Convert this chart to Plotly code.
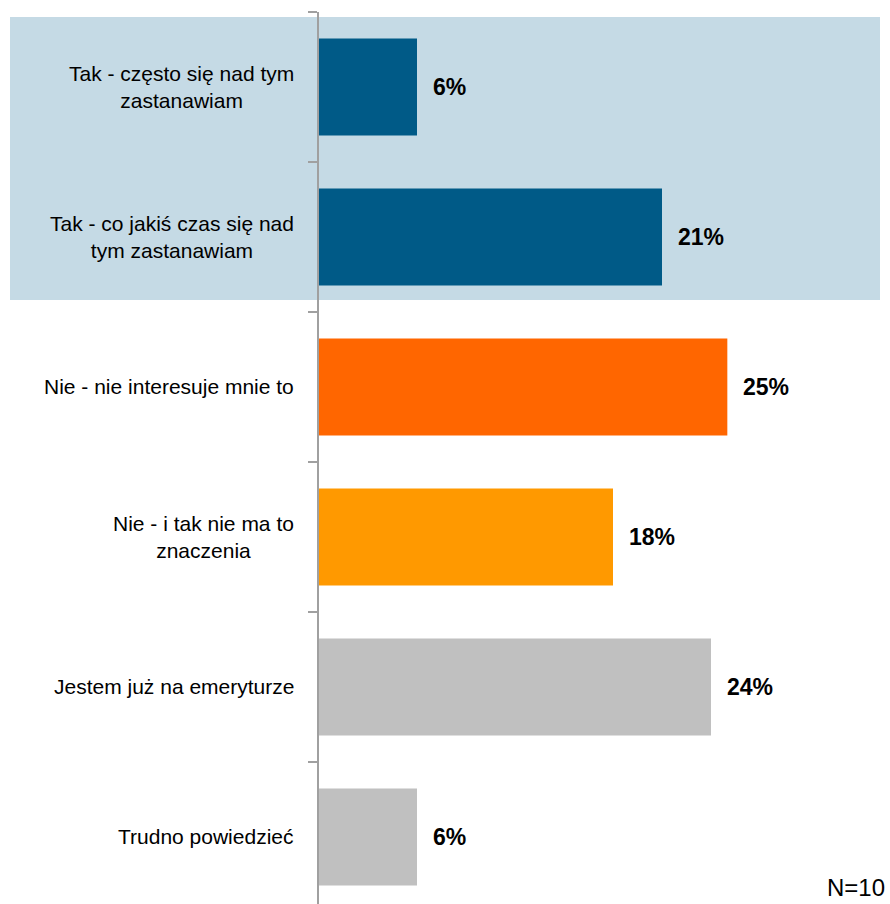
import plotly.graph_objects as go

categories = [
    "Tak - często się nad tym<br>zastanawiam",
    "Tak - co jakiś czas się nad<br>tym zastanawiam",
    "Nie - nie interesuje mnie to",
    "Nie - i tak nie ma to<br>znaczenia",
    "Jestem już na emeryturze",
    "Trudno powiedzieć",
]
values = [6, 21, 25, 18, 24, 6]
value_labels = ["6%", "21%", "25%", "18%", "24%", "6%"]
bar_colors = ["#005A87", "#005A87", "#FF6600", "#FF9900", "#C0C0C0", "#C0C0C0"]
note = "N=10"

FONT = "Liberation Sans, Arial, sans-serif"

fig = go.Figure()
fig.add_trace(go.Bar(
    x=values,
    y=categories,
    orientation="h",
    marker=dict(color=bar_colors, line=dict(width=0)),
    hoverinfo="skip",
))

annotations = []
for cat in categories:
    annotations.append(dict(
        x=0, y=cat, xref="x", yref="y", text=cat, showarrow=False,
        xanchor="right", yanchor="middle", align="center", xshift=-23,
        font=dict(family=FONT, size=21, color="#000000"),
    ))
for cat, v, lab in zip(categories, values, value_labels):
    annotations.append(dict(
        x=v, y=cat, xref="x", yref="y", text="<b>" + lab + "</b>", showarrow=False,
        xanchor="left", yanchor="middle", xshift=14,
        font=dict(family=FONT, size=23, color="#000000"),
    ))
annotations.append(dict(
    x=1.1592, y=0.019, xref="paper", yref="paper", text=note, showarrow=False,
    xanchor="right", yanchor="middle",
    font=dict(family=FONT, size=24, color="#000000"),
))

fig.update_layout(
    width=890, height=904,
    margin=dict(l=319, r=81, t=12, b=0),
    paper_bgcolor="white", plot_bgcolor="rgba(0,0,0,0)",
    showlegend=False,
    bargap=0.353,
    annotations=annotations,
    shapes=[dict(
        type="rect", xref="paper", yref="paper",
        x0=-0.6306, x1=1.1449, y0=0.6771, y1=0.9944,
        fillcolor="#C5DAE5", line=dict(width=0), layer="below",
    )],
)
fig.update_xaxes(range=[0, 30], visible=False, fixedrange=True)
fig.update_yaxes(
    range=[5.447, -0.5], showline=True, linecolor="#A0A0A0", linewidth=2,
    ticks="outside", tickson="boundaries", ticklen=9, tickcolor="#A0A0A0", tickwidth=2,
    showticklabels=False, showgrid=False, zeroline=False, fixedrange=True,
)

fig.write_html(
    "out.html",
    config={"displayModeBar": False, "staticPlot": True},
    post_script="document.body.style.margin='0';document.body.style.overflow='hidden';",
)
